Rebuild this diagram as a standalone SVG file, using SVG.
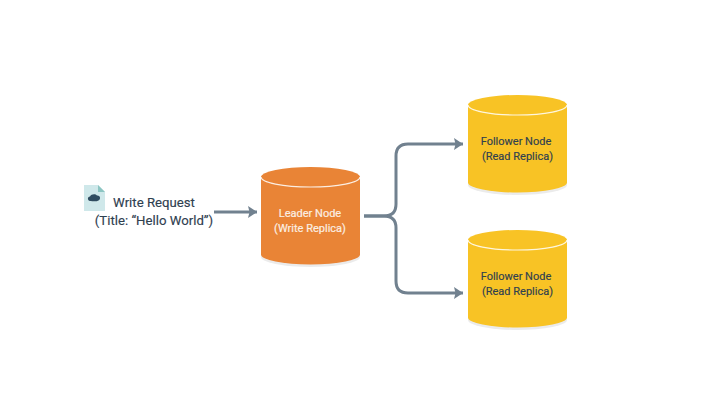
<svg xmlns="http://www.w3.org/2000/svg" width="720" height="405" viewBox="0 0 720 405">
<style>
text{font-family:Roboto,"Noto Sans",sans-serif;font-size:11px;font-weight:400;text-anchor:middle}
.big{font-size:13.2px}
.dark{fill:#2f4050;stroke:#2f4050;stroke-width:.15}
.lt{fill:#fbeee2;stroke:#fbeee2;stroke-width:.2}
.c{fill:none;stroke:#71818f;stroke-width:3}
.rim{fill:none;stroke:#fff;stroke-opacity:.85;stroke-width:1.2}
.sh{fill:#000;fill-opacity:.08}
</style>
<defs>
<marker id="a" markerUnits="userSpaceOnUse" markerWidth="10" markerHeight="12" refX="9" refY="6" orient="auto"><path d="M0 0L9 6L0 12L1.500 6Z" fill="#71818f"/></marker>
<path id="cyl" d="M0 10.500A49.500 10 0 0 1 99 10.500V88A49.500 10 0 0 1 0 88Z"/>
<path id="rimp" d="M0 10.500A49.500 10 0 0 0 99 10.500"/>
<path id="shp" d="M0 12H99V90A49.500 10 0 0 1 0 90Z"/>
</defs>
<rect width="720" height="405" fill="#fff"/>
<g id="connectors">
<path class="c" d="M214 212H257" marker-end="url(#a)"/>
<path class="c" d="M364 216H384Q396 216 396 204V156Q396 144 408 144H463" marker-end="url(#a)"/>
<path class="c" d="M364 216H384Q396 216 396 228V281Q396 293 408 293H463" marker-end="url(#a)"/>
</g>
<g id="write-request">
<path d="M84 185H98L105 192V211H84Z" fill="#cfe8ea"/>
<path d="M98 185L105 192H98Z" fill="#8cc5c2"/>
<path d="M90 201C87.500 200.500 87 197 90 196.500C91 194 95.500 193.500 97 195.500C100.500 195 101 199.500 98.500 200.500C96 202 92 201 90 201Z" fill="#2f4c60"/>
<text class="dark big" x="154" y="207">Write Request</text>
<text class="dark big" x="154" y="225">(Title: “Hello World”)</text>
</g>
<g id="leader-node">
<use href="#shp" x="261" y="167" class="sh"/>
<use href="#cyl" x="261" y="166.500" fill="#e98436"/>
<use href="#rimp" x="261" y="166.500" class="rim"/>
<text class="lt" x="310" y="217">Leader Node</text>
<text class="lt" x="310" y="232">(Write Replica)</text>
</g>
<g id="follower-top">
<use href="#shp" x="468" y="95" class="sh"/>
<use href="#cyl" x="468" y="94.500" fill="#f8c325"/>
<use href="#rimp" x="468" y="94.500" class="rim"/>
<text class="dark" x="516" y="145">Follower Node</text>
<text class="dark" x="517.500" y="160">(Read Replica)</text>
</g>
<g id="follower-bottom">
<use href="#shp" x="468" y="230" class="sh"/>
<use href="#cyl" x="468" y="229.500" fill="#f8c325"/>
<use href="#rimp" x="468" y="229.500" class="rim"/>
<text class="dark" x="516" y="280">Follower Node</text>
<text class="dark" x="517.500" y="295">(Read Replica)</text>
</g>
</svg>
